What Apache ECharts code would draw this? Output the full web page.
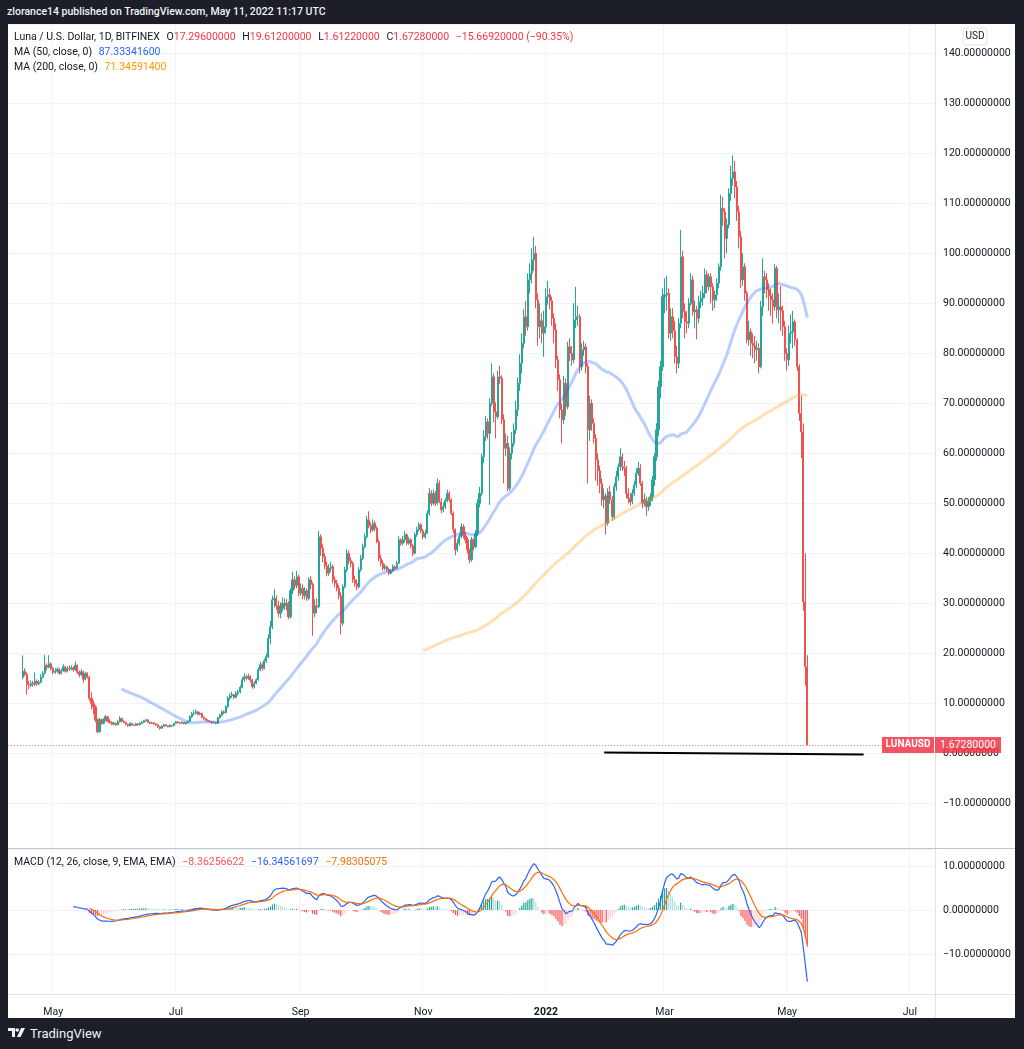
<!DOCTYPE html>
<html>
<head>
<meta charset="utf-8">
<title>LUNAUSD 1D</title>
<script src="https://cdn.jsdelivr.net/npm/echarts@6/dist/echarts.min.js"></script>
<style>
html,body{margin:0;padding:0;width:1024px;height:1049px;background:#1c1f27;overflow:hidden;font-family:Roboto,sans-serif;}
#header{position:absolute;left:7px;top:5px;color:#f0f3fa;font-size:10.5px;font-weight:500;white-space:nowrap;}
#chartWrap{position:absolute;left:8px;top:24px;width:1007px;height:994px;background:#fff;}
#logo{position:absolute;left:8px;top:1026px;color:#f0f3fa;font-size:13px;display:flex;align-items:center;}
#logo svg{margin-right:4px;}
</style>
</head>
<body>
<div id="header">zlorance14 published on TradingView.com, May 11, 2022 11:17 UTC</div>
<div id="chartWrap"></div>
<div id="logo"><svg width="18" height="12" viewBox="0 0 18 12"><path d="M0 0h7v9H4V3H0z" fill="#f0f3fa"/><circle cx="9.2" cy="2" r="1.8" fill="#f0f3fa"/><path d="M13 0h4l-4.5 9H9z" fill="#f0f3fa"/></svg>TradingView</div>
<script>
// 日线数据：2021-04-16 至 2022-05-11，开盘价取前一日收盘价
var firstOpen = 15.2;
var closes = [
16.4,15.8,13.8,13.6,14.0,13.8,14.4,13.9,14.2,15.2,
16.0,17.6,17.2,17.9,17.0,16.2,16.4,16.8,16.0,16.5,
17.3,16.4,17.0,16.9,17.1,16.7,17.6,16.2,15.7,16.3,
14.8,16.0,15.2,11.0,10.0,9.3,6.7,4.3,6.7,6.0,
6.8,7.3,6.4,6.2,5.8,6.0,5.7,6.3,7.0,6.4,
6.2,5.8,5.5,6.0,5.7,5.6,5.9,5.7,6.0,6.2,
6.5,6.7,6.2,6.0,6.1,5.9,5.7,5.3,5.0,5.4,
5.7,5.5,5.3,5.6,5.5,6.0,6.3,6.1,6.0,6.2,
5.9,6.1,6.4,7.3,7.9,8.0,8.3,7.8,8.0,7.2,
6.9,6.6,6.4,6.3,6.1,6.2,6.0,7.1,7.6,8.3,
8.1,9.3,11.0,11.5,11.7,11.2,12.0,12.3,13.2,14.7,
15.3,15.0,15.4,14.7,13.3,14.0,14.7,16.7,17.7,17.0,
18.5,19.3,23.0,25.3,30.7,31.0,29.5,28.0,29.0,30.0,
29.5,30.0,27.3,32.5,34.7,33.5,35.3,32.0,33.0,31.5,
32.5,31.0,34.7,33.8,28.0,29.5,29.3,43.3,41.0,39.3,
37.5,36.0,37.0,37.3,34.7,34.0,33.0,31.5,26.0,33.3,
36.7,40.0,38.5,38.0,34.7,34.0,33.3,36.7,39.0,41.3,
43.3,46.7,45.5,44.7,46.0,45.0,42.3,39.0,38.0,37.0,
37.3,36.7,36.0,36.5,37.3,37.0,38.0,42.7,42.0,42.7,
43.7,42.0,42.7,41.5,40.0,43.7,44.7,45.7,44.5,43.3,
44.0,48.0,52.0,50.0,52.0,50.0,54.0,50.3,48.7,49.3,
50.5,52.0,50.7,48.0,44.7,40.7,42.0,43.3,45.3,43.5,
42.7,40.7,38.7,42.7,41.3,44.0,50.0,52.0,59.3,63.3,
66.3,64.0,70.0,75.3,68.3,67.3,75.3,75.0,66.7,61.0,
62.0,53.0,60.0,62.0,64.7,68.7,74.0,78.0,82.0,87.3,
85.3,94.7,96.0,98.7,100.0,90.7,85.3,86.5,84.0,85.3,
91.3,91.7,90.5,87.0,84.7,78.7,74.7,68.7,66.7,74.0,
69.3,81.3,80.0,78.7,86.7,87.3,87.3,77.3,80.7,81.3,
77.3,64.7,70.0,66.0,63.0,58.7,56.5,54.0,50.7,51.5,
46.0,52.3,50.7,47.3,53.3,55.3,57.3,59.3,57.3,57.0,
52.0,51.0,50.3,52.0,53.7,56.0,57.0,54.0,50.0,50.8,
49.3,50.5,51.3,54.7,59.3,64.7,73.3,77.3,91.3,91.7,
92.0,84.0,87.3,84.5,79.3,78.0,86.0,99.3,88.3,86.3,
86.0,90.0,94.7,88.3,88.7,87.0,90.3,91.0,92.0,95.7,
93.3,95.3,93.3,90.7,91.7,94.0,97.3,109.0,108.3,103.0,
105.7,112.0,115.0,116.3,113.3,108.3,103.3,94.7,97.3,92.0,
82.7,84.3,82.0,81.5,80.7,81.0,77.3,89.3,95.3,94.7,
92.7,91.5,90.7,89.3,97.0,88.7,89.3,88.5,85.3,80.0,
78.7,84.0,84.3,86.3,82.7,77.3,68.0,64.3,30.3,17.296,
1.6728
];
var highs = [
19.6,17.0,16.2,14.5,14.6,14.5,16.2,14.8,14.6,15.8,
16.4,19.7,18.0,19.6,18.2,17.3,17.0,17.2,17.1,16.9,
17.8,17.5,17.4,17.5,17.6,17.4,18.4,17.8,16.6,16.8,
16.5,16.3,16.2,15.5,12.2,10.6,9.6,7.0,7.1,6.9,
7.0,7.7,7.4,6.8,6.4,6.3,6.2,6.6,7.4,7.1,
6.6,6.3,5.9,6.2,6.1,5.8,6.1,6.0,6.2,6.4,
6.7,6.9,6.8,6.3,6.3,6.2,6.0,5.8,5.4,5.6,
5.9,5.8,5.6,5.8,5.7,6.1,6.5,6.4,6.2,6.4,
6.3,6.3,6.6,7.6,8.3,8.6,8.8,8.5,8.3,8.1,
7.4,7.0,6.8,6.6,6.4,6.4,6.3,7.3,7.9,8.6,
8.6,9.6,11.4,12.0,12.3,11.9,12.4,12.7,13.6,15.2,
16.0,15.7,15.9,15.6,14.9,14.4,15.0,17.2,18.3,18.1,
18.9,19.9,23.8,26.5,31.5,32.8,31.6,30.5,30.2,31.2,
31.0,30.8,30.4,33.0,36.3,35.4,36.5,35.8,34.0,33.8,
33.2,33.0,35.2,35.5,34.2,30.8,31.0,44.5,43.8,41.8,
40.0,38.3,37.8,38.3,37.8,35.4,34.7,33.6,32.2,33.8,
37.3,40.8,40.6,39.2,38.4,35.5,34.8,37.2,39.7,41.9,
44.0,47.5,48.4,46.2,46.8,46.5,45.4,42.8,39.7,38.6,
37.9,37.6,37.1,36.9,37.8,37.6,38.5,43.4,43.0,43.5,
44.4,44.0,43.3,43.0,41.8,44.2,45.3,46.2,46.0,44.9,
44.7,48.6,53.0,52.6,52.8,52.5,55.0,54.6,51.0,50.2,
51.0,52.7,52.4,51.0,48.4,45.0,42.8,44.0,46.0,45.8,
44.2,43.2,41.0,43.3,43.0,44.6,50.8,53.3,60.0,64.6,
67.5,67.0,71.0,78.0,76.0,70.2,76.5,77.5,75.6,67.8,
64.0,63.5,61.2,64.3,66.0,70.5,75.2,79.8,84.0,88.8,
90.5,96.0,98.0,101.0,103.3,101.5,92.0,90.0,88.0,88.5,
93.0,94.5,93.0,91.3,88.0,86.0,79.5,75.8,70.0,75.5,
75.0,82.3,83.0,81.5,90.0,93.3,89.5,87.8,82.0,82.5,
82.0,78.0,71.5,70.8,67.0,63.8,60.0,57.5,55.0,53.0,
52.0,53.0,53.5,51.5,54.0,56.5,58.0,61.0,60.0,58.5,
57.5,53.0,52.0,52.8,54.5,57.0,58.3,57.8,54.5,52.0,
51.3,51.2,52.0,55.5,60.0,66.0,74.5,78.5,93.0,95.0,
95.5,93.0,89.0,89.0,86.5,81.5,87.0,104.7,100.5,90.0,
88.5,91.0,96.0,95.5,90.5,89.5,91.5,92.5,93.5,97.0,
96.5,96.0,96.0,94.0,92.5,95.0,98.0,111.7,111.3,109.0,
107.0,113.0,117.5,119.6,118.5,114.5,109.5,104.5,100.0,98.0,
92.5,86.5,85.0,84.0,83.5,82.5,82.0,90.5,99.0,96.5,
96.0,94.0,93.0,92.0,97.8,97.5,92.0,93.5,89.5,86.5,
81.0,85.5,87.8,88.5,86.8,83.0,77.8,71.5,66.0,40.0,
19.612
];
var lows = [
14.8,15.4,11.7,12.8,13.2,13.3,13.5,13.5,13.6,14.0,
15.0,15.8,16.6,17.0,16.6,15.8,15.9,16.1,15.7,15.8,
16.3,16.1,16.2,16.5,16.6,16.3,16.5,15.9,15.2,15.4,
14.1,14.6,14.9,10.5,8.8,7.8,6.2,4.0,4.2,5.7,
5.8,6.5,6.2,5.9,5.6,5.6,5.5,5.6,6.2,6.2,
6.0,5.6,5.3,5.4,5.5,5.4,5.5,5.5,5.6,5.9,
6.1,6.3,6.0,5.8,5.9,5.7,5.5,5.1,4.7,4.9,
5.3,5.4,5.2,5.2,5.3,5.4,5.9,6.0,5.8,5.9,
5.8,5.8,6.0,6.3,7.1,7.6,7.8,7.6,7.6,7.0,
6.7,6.4,6.3,6.1,5.9,6.0,5.8,5.9,7.0,7.4,
7.8,8.0,9.1,10.6,11.1,10.8,11.0,11.6,12.0,13.0,
14.3,14.6,14.7,14.2,12.9,13.0,13.8,14.5,16.4,16.5,
16.8,18.1,19.0,21.8,24.8,29.2,28.7,27.2,27.0,28.4,
28.7,28.6,26.8,27.0,31.8,32.8,33.0,31.4,31.5,30.8,
30.8,30.5,30.6,32.8,23.5,27.2,28.0,29.0,39.5,38.2,
36.8,35.4,35.5,36.3,34.0,33.2,32.4,30.8,23.8,25.5,
33.0,36.2,37.8,37.2,34.1,33.3,32.6,33.0,36.3,38.6,
41.0,43.0,45.0,44.0,44.3,44.4,42.0,38.4,37.4,36.5,
36.6,36.3,35.6,35.8,36.2,36.6,36.8,37.9,41.5,41.6,
42.2,41.6,41.7,41.0,39.4,39.8,43.3,44.3,44.0,42.8,
42.9,43.8,47.5,49.4,49.6,49.4,49.7,50.0,48.0,48.2,
48.9,50.2,50.2,47.6,44.0,39.6,40.2,41.5,43.0,43.0,
42.0,40.0,38.0,38.3,40.6,41.0,43.5,49.2,51.5,58.0,
62.5,62.8,49.7,69.5,66.2,63.0,66.8,73.8,65.8,54.0,
59.5,52.4,52.5,58.8,61.3,63.8,67.4,72.5,76.0,81.0,
83.5,84.5,92.0,94.0,96.5,89.0,81.5,83.0,82.0,79.3,
84.0,89.7,88.8,85.5,82.0,77.0,72.5,67.0,62.0,65.8,
67.5,68.8,78.5,77.5,78.0,85.0,85.5,76.0,76.5,79.5,
76.0,54.0,62.5,64.5,62.0,54.5,53.5,52.0,49.5,49.0,
43.8,45.5,49.8,46.5,46.8,52.5,54.5,56.5,56.5,55.5,
51.0,50.0,49.5,49.8,51.5,53.0,55.5,53.5,49.0,49.5,
47.5,48.5,49.5,50.5,53.5,58.5,63.5,71.0,76.5,88.0,
88.5,83.0,82.5,83.0,78.0,76.0,77.0,85.0,87.0,83.0,
84.0,85.0,89.5,87.5,85.0,82.8,86.0,89.0,89.5,91.0,
92.0,92.5,90.0,88.5,89.0,90.5,93.0,96.5,105.5,99.0,
100.0,105.0,110.5,113.5,111.0,106.5,101.0,93.0,93.5,90.5,
82.0,81.5,79.5,79.0,78.0,78.5,76.0,77.0,87.5,92.0,
91.0,88.5,87.5,86.0,88.5,87.0,86.0,84.5,83.5,78.5,
76.5,77.5,82.0,81.0,81.5,76.5,66.5,59.0,28.5,13.5,
1.6122
];

// 时间轴：左侧留空7天，右侧留空至7月中旬
var axisStart = '2021-04-09';
var leadDays = 7;
var axisDays = 461;
var monthNames = ['Jan','Feb','Mar','Apr','May','Jun','Jul','Aug','Sep','Oct','Nov','Dec'];

// 图上手绘的黑色趋势线、最新价
var trendLine = [['2022-01-30', 0.16], ['2022-06-08', -0.24]];
var lastPrice = 1.6728;
var lastPriceText = '1.67280000';

var headerLines = [
	'{d|Luna / U.S. Dollar, 1D, BITFINEX}  {d|O}{r|17.29600000}  {d|H}{r|19.61200000}  {d|L}{r|1.61220000}  {d|C}{r|1.67280000}  {r|\u221215.66920000 (\u221290.35%)}',
	'{d|MA (50, close, 0)}  {b|87.33341600}',
	'{d|MA (200, close, 0)}  {o|71.34591400}'
];
var macdLegend = '{d|MACD (12, 26, close, 9, EMA, EMA)}  {r|\u22128.36256622}  {b|\u221216.34561697}  {o|\u22127.98305075}';

var UP = '#26a69a', DOWN = '#ef5350';

function buildDates(){
	var t0 = Date.parse(axisStart + 'T00:00:00Z');
	var arr = [];
	for(var i = 0; i < axisDays; i++){
		arr.push(new Date(t0 + i * 86400000).toISOString().slice(0, 10));
	}
	return arr;
}

/**
 * [sma 简单移动平均]
 */
function sma(src, n){
	var out = [];
	var sum = 0;
	for(var i = 0; i < src.length; i++){
		sum += src[i];
		if(i >= n) sum -= src[i - n];
		out.push(i >= n - 1 ? sum / n : null);
	}
	return out;
}

/**
 * [ema 指数移动平均，以SMA为起点]
 */
function ema(src, n){
	var out = [];
	var alpha = 2 / (n + 1);
	var cnt = 0, sum = 0, prev = null;
	for(var i = 0; i < src.length; i++){
		var v = src[i];
		if(v === null){ out.push(null); continue; }
		if(prev === null){
			sum += v; cnt++;
			if(cnt === n){ prev = sum / n; out.push(prev); }
			else out.push(null);
		}else{
			prev = alpha * v + (1 - alpha) * prev;
			out.push(prev);
		}
	}
	return out;
}

function pad(arr){
	var out = [];
	for(var i = 0; i < axisDays; i++){
		var j = i - leadDays;
		var v = (j >= 0 && j < arr.length) ? arr[j] : null;
		out.push(v === null || v === undefined ? '-' : v);
	}
	return out;
}

function isMonthMark(index, value){
	var m = parseInt(value.slice(5, 7), 10);
	return value.slice(8) === '01' && m % 2 === 1;
}

function priceFmt(v){
	var s = Math.abs(v).toFixed(8);
	return v < 0 ? '\u2212' + s : s;
}

var dates = buildDates();

// K线
var candles = [];
for(var i = 0; i < closes.length; i++){
	var o = i === 0 ? firstOpen : closes[i - 1];
	candles.push([o, closes[i], lows[i], highs[i]]);
}
var candleData = [];
for(var i = 0; i < axisDays; i++){
	var j = i - leadDays;
	candleData.push(j >= 0 && j < candles.length ? candles[j] : '-');
}

// 指标
var ma50 = sma(closes, 50);
var ma200 = sma(closes, 200);
var ema12 = ema(closes, 12);
var ema26 = ema(closes, 26);
var macd = [];
for(var i = 0; i < closes.length; i++){
	macd.push(ema12[i] !== null && ema26[i] !== null ? ema12[i] - ema26[i] : null);
}
var signal = ema(macd, 9);
var hist = [];
for(var i = 0; i < closes.length; i++){
	if(macd[i] === null || signal[i] === null){ hist.push(null); continue; }
	var h = macd[i] - signal[i];
	var prevH = hist.length && hist[hist.length - 1] !== null ? hist[hist.length - 1].value : h;
	var c;
	if(h >= 0) c = prevH < h ? '#26a69a' : '#b2dfdb';
	else c = prevH < h ? '#ffcdd2' : '#ff5252';
	hist.push({value: h, itemStyle: {color: c}});
}

// 图例富文本（graphic 中用 fill）
var FONT = 'Roboto';
var richLegend = {
	d: {fontFamily: FONT, fontSize: 10.5, fill: '#131722'},
	r: {fontFamily: FONT, fontSize: 10.5, fill: '#f23645'},
	b: {fontFamily: FONT, fontSize: 10.5, fill: '#2962ff'},
	o: {fontFamily: FONT, fontSize: 10.5, fill: '#ff9800'}
};
var richMacd = {
	d: richLegend.d,
	r: {fontFamily: FONT, fontSize: 10.5, fill: '#ff5252'},
	b: richLegend.b,
	o: {fontFamily: FONT, fontSize: 10.5, fill: '#ff6d00'}
};

var dom = document.getElementById('chartWrap');
var myChart = echarts.init(dom, null, {renderer: 'canvas'});

var gridLine = {show: true, lineStyle: {color: '#f0f3fa', width: 1}};

var option = {
	animation: false,
	backgroundColor: '#ffffff',
	grid: [
		{left: 0, top: 0, width: 927, height: 824},
		{left: 0, top: 825, width: 927, height: 145}
	],
	xAxis: [
		{
			type: 'category', gridIndex: 0, data: dates, boundaryGap: true,
			axisLine: {show: false}, axisTick: {show: false}, axisLabel: {show: false},
			splitLine: {show: true, interval: isMonthMark, lineStyle: {color: '#f0f3fa'}}
		},
		{
			type: 'category', gridIndex: 1, data: dates, boundaryGap: true,
			axisLine: {show: false}, axisTick: {show: false},
			axisLabel: {
				show: true, interval: isMonthMark, margin: 13,
				fontFamily: FONT, fontSize: 10.5, color: '#131722',
				formatter: function(v){
					var m = parseInt(v.slice(5, 7), 10);
					return m === 1 ? '{y|' + v.slice(0, 4) + '}' : monthNames[m - 1];
				},
				rich: {y: {fontFamily: FONT, fontSize: 10.5, fontWeight: 'bold', color: '#131722'}}
			},
			splitLine: {show: true, interval: isMonthMark, lineStyle: {color: '#f0f3fa'}}
		}
	],
	yAxis: [
		{
			type: 'value', gridIndex: 0, position: 'right', scale: true,
			min: -18.94, max: 145.86, minInterval: 10, maxInterval: 10,
			axisLine: {show: false}, axisTick: {show: false},
			axisLabel: {
				align: 'left', margin: 8, showMinLabel: false, showMaxLabel: false,
				fontFamily: FONT, fontSize: 10.5, color: '#131722', formatter: priceFmt
			},
			splitLine: gridLine
		},
		{
			type: 'value', gridIndex: 1, position: 'right', scale: true,
			min: -19.09, max: 13.86, minInterval: 10, maxInterval: 10,
			axisLine: {show: false}, axisTick: {show: false},
			axisLabel: {
				align: 'left', margin: 8, showMinLabel: false, showMaxLabel: false,
				fontFamily: FONT, fontSize: 10.5, color: '#131722', formatter: priceFmt
			},
			splitLine: gridLine
		}
	],
	series: [
		{
			name: 'LUNAUSD', type: 'candlestick', xAxisIndex: 0, yAxisIndex: 0,
			data: candleData, barWidth: 1.6,
			itemStyle: {color: UP, color0: DOWN, borderColor: UP, borderColor0: DOWN, borderWidth: 1},
			markLine: {
				silent: true, symbol: ['none', 'none'], animation: false,
				label: {show: false},
				data: [
					{yAxis: lastPrice, lineStyle: {color: '#ef5350', type: [1, 2], width: 1, opacity: 0.7}},
					[
						{coord: trendLine[0], lineStyle: {color: '#000000', type: 'solid', width: 2}},
						{coord: trendLine[1]}
					]
				]
			}
		},
		{
			name: 'MA50', type: 'line', xAxisIndex: 0, yAxisIndex: 0,
			data: pad(ma50), showSymbol: false, symbol: 'none',
			lineStyle: {color: 'rgba(41,98,255,0.32)', width: 3}, z: 3
		},
		{
			name: 'MA200', type: 'line', xAxisIndex: 0, yAxisIndex: 0,
			data: pad(ma200), showSymbol: false, symbol: 'none',
			lineStyle: {color: 'rgba(255,152,0,0.3)', width: 3}, z: 3
		},
		{
			name: 'Histogram', type: 'bar', xAxisIndex: 1, yAxisIndex: 1,
			data: pad(hist), barWidth: 1.2
		},
		{
			name: 'MACD', type: 'line', xAxisIndex: 1, yAxisIndex: 1,
			data: pad(macd), showSymbol: false, symbol: 'none',
			lineStyle: {color: '#2962ff', width: 1.2}
		},
		{
			name: 'Signal', type: 'line', xAxisIndex: 1, yAxisIndex: 1,
			data: pad(signal), showSymbol: false, symbol: 'none',
			lineStyle: {color: '#ff6d00', width: 1.2}
		}
	]
};
myChart.setOption(option, true);

// 价格标签、图例、分隔线
var yLast = myChart.convertToPixel({yAxisIndex: 0}, lastPrice);
var graphics = [
	{type: 'line', shape: {x1: 927.5, y1: 0, x2: 927.5, y2: 994}, style: {stroke: '#e0e3eb', lineWidth: 1}, z: 50},
	{type: 'line', shape: {x1: 0, y1: 824.5, x2: 1007, y2: 824.5}, style: {stroke: '#c2c5cc', lineWidth: 1}, z: 50},
	{type: 'line', shape: {x1: 0, y1: 970.5, x2: 1007, y2: 970.5}, style: {stroke: '#e0e3eb', lineWidth: 1}, z: 50},
	{type: 'text', left: 6, top: 7, style: {text: headerLines[0], rich: richLegend}, z: 60},
	{type: 'text', left: 6, top: 22, style: {text: headerLines[1], rich: richLegend}, z: 60},
	{type: 'text', left: 6, top: 37, style: {text: headerLines[2], rich: richLegend}, z: 60},
	{type: 'text', left: 6, top: 832, style: {text: macdLegend, rich: richMacd}, z: 60},
	{type: 'rect', shape: {x: 955, y: 4, width: 24, height: 17, r: 3}, style: {fill: '#fff', stroke: '#e0e3eb', lineWidth: 1}, z: 60},
	{type: 'text', x: 967, y: 12.5, style: {text: 'USD', fill: '#131722', font: '10px Roboto', align: 'center', verticalAlign: 'middle'}, z: 61},
	{type: 'rect', shape: {x: 874, y: yLast - 8, width: 52, height: 16}, style: {fill: 'rgba(242,54,69,0.85)'}, z: 60},
	{type: 'text', x: 900, y: yLast, style: {text: 'LUNAUSD', fill: '#fff', font: 'bold 10px Roboto', align: 'center', verticalAlign: 'middle'}, z: 61},
	{type: 'rect', shape: {x: 927, y: yLast - 8, width: 66, height: 16}, style: {fill: 'rgba(242,54,69,0.85)'}, z: 60},
	{type: 'text', x: 960, y: yLast, style: {text: lastPriceText, fill: '#fff', font: '10.5px Roboto', align: 'center', verticalAlign: 'middle'}, z: 61}
];
myChart.setOption({graphic: graphics});
</script>
</body>
</html>
